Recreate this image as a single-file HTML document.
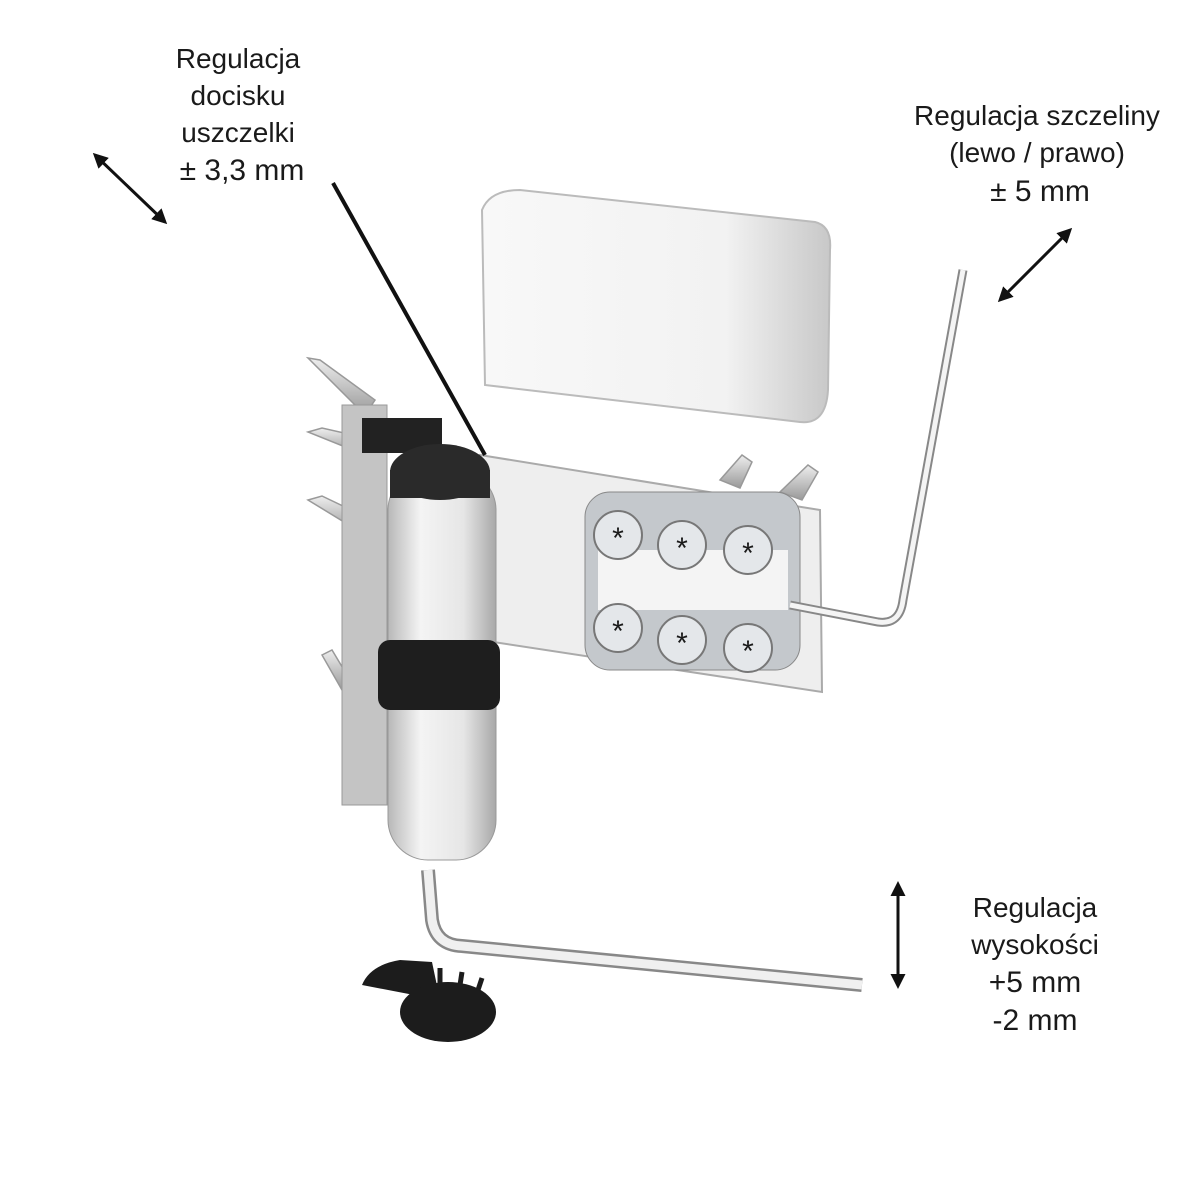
<!DOCTYPE html>
<html><head><meta charset="utf-8"><style>
html,body{margin:0;padding:0;background:#fff}
svg{display:block}
text{font-family:"Liberation Sans",sans-serif;fill:#1a1a1a;text-anchor:middle}
</style></head><body>
<svg width="1200" height="1200" viewBox="0 0 1200 1200" xmlns="http://www.w3.org/2000/svg">
<defs>
<linearGradient id="cyl" x1="0" x2="1"><stop offset="0" stop-color="#b8b8b8"/><stop offset=".3" stop-color="#f4f4f4"/><stop offset=".7" stop-color="#e6e6e6"/><stop offset="1" stop-color="#a8a8a8"/></linearGradient>
<linearGradient id="cov" x1="0" x2="1"><stop offset="0" stop-color="#f8f8f8"/><stop offset=".7" stop-color="#f2f2f2"/><stop offset="1" stop-color="#c8c8c8"/></linearGradient>
<linearGradient id="scr" x1="0" x2="0" y1="0" y2="1"><stop offset="0" stop-color="#eee"/><stop offset="1" stop-color="#999"/></linearGradient>
<marker id="ah" viewBox="0 0 10 10" refX="8" refY="5" markerWidth="5" markerHeight="5" orient="auto-start-reverse"><path d="M0,0L10,5L0,10z" fill="#111"/></marker>
</defs>
<g font-size="28">
<text x="238" y="68">Regulacja</text>
<text x="238" y="105">docisku</text>
<text x="238" y="142">uszczelki</text>
<text x="242" y="180" font-size="30">± 3,3 mm</text>
<text x="1037" y="125">Regulacja szczeliny</text>
<text x="1037" y="162">(lewo / prawo)</text>
<text x="1040" y="201" font-size="30">± 5 mm</text>
<text x="1035" y="917">Regulacja</text>
<text x="1035" y="954">wysokości</text>
<text x="1035" y="992" font-size="30">+5 mm</text>
<text x="1035" y="1030" font-size="30">-2 mm</text>
</g>
<g stroke="#111" stroke-width="3" fill="none">
<line x1="95" y1="155" x2="165" y2="222" marker-start="url(#ah)" marker-end="url(#ah)"/>
<line x1="1070" y1="230" x2="1000" y2="300" marker-start="url(#ah)" marker-end="url(#ah)"/>
<line x1="898" y1="884" x2="898" y2="986" marker-start="url(#ah)" marker-end="url(#ah)"/>
</g>
<path d="M482,210 Q490,190 520,190 L815,222 Q832,226 830,250 L828,390 Q826,425 800,422 L485,385 Z" fill="url(#cov)" stroke="#bbb" stroke-width="2"/>
<g stroke="#999" stroke-width="1.5" fill="url(#scr)">
<polygon points="308,358 320,360 375,400 365,415"/>
<polygon points="308,432 322,428 375,440 365,455"/>
<polygon points="308,500 322,496 368,518 362,533"/>
<polygon points="322,655 332,650 350,680 342,690"/>
<polygon points="742,455 752,462 740,488 720,480"/>
<polygon points="808,465 818,472 802,500 780,492"/>
</g>
<rect x="342" y="405" width="45" height="400" fill="#c4c4c4" stroke="#999"/>
<rect x="362" y="418" width="80" height="35" fill="#222"/>
<path d="M480,455 L820,510 L822,692 L480,640 Z" fill="#eeeeee" stroke="#aaa" stroke-width="2"/>
<rect x="585" y="492" width="215" height="178" rx="25" fill="#c4c8cc" stroke="#888"/>
<rect x="598" y="550" width="190" height="60" fill="#f4f4f4"/>
<g fill="#e4e7ea" stroke="#777" stroke-width="2">
<circle cx="618" cy="535" r="24"/><circle cx="682" cy="545" r="24"/><circle cx="748" cy="550" r="24"/>
<circle cx="618" cy="628" r="24"/><circle cx="682" cy="640" r="24"/><circle cx="748" cy="648" r="24"/>
</g>
<g font-size="30" fill="#111"><text x="618" y="548">*</text><text x="682" y="558">*</text><text x="748" y="563">*</text><text x="618" y="641">*</text><text x="682" y="653">*</text><text x="748" y="661">*</text></g>
<rect x="388" y="470" width="108" height="390" rx="40" fill="url(#cyl)" stroke="#999"/>
<rect x="378" y="640" width="122" height="70" rx="12" fill="#1e1e1e"/>
<ellipse cx="440" cy="472" rx="50" ry="28" fill="#2a2a2a"/>
<rect x="390" y="470" width="100" height="28" fill="#2a2a2a"/>
<path d="M333,183 L485,455" stroke="#111" stroke-width="4" fill="none"/>
<path d="M963,270 L903,600 Q900,625 878,622 L790,605" stroke="#888" stroke-width="9" fill="none"/>
<path d="M963,270 L903,600 Q900,625 878,622 L790,605" stroke="#f4f4f4" stroke-width="5" fill="none"/>
<path d="M428,870 L432,920 Q436,945 462,946 L862,985" stroke="#888" stroke-width="14" fill="none"/>
<path d="M428,870 L432,920 Q436,945 462,946 L862,985" stroke="#f0f0f0" stroke-width="9" fill="none"/>
<path d="M362,985 Q370,965 400,960 L432,962 L440,1000 Z" fill="#1c1c1c"/>
<ellipse cx="448" cy="1012" rx="48" ry="30" fill="#1c1c1c"/>
<g stroke="#1c1c1c" stroke-width="5"><line x1="420" y1="985" x2="420" y2="970"/><line x1="440" y1="985" x2="440" y2="968"/><line x1="460" y1="985" x2="462" y2="972"/><line x1="478" y1="990" x2="482" y2="978"/></g>
</svg>
</body></html>
